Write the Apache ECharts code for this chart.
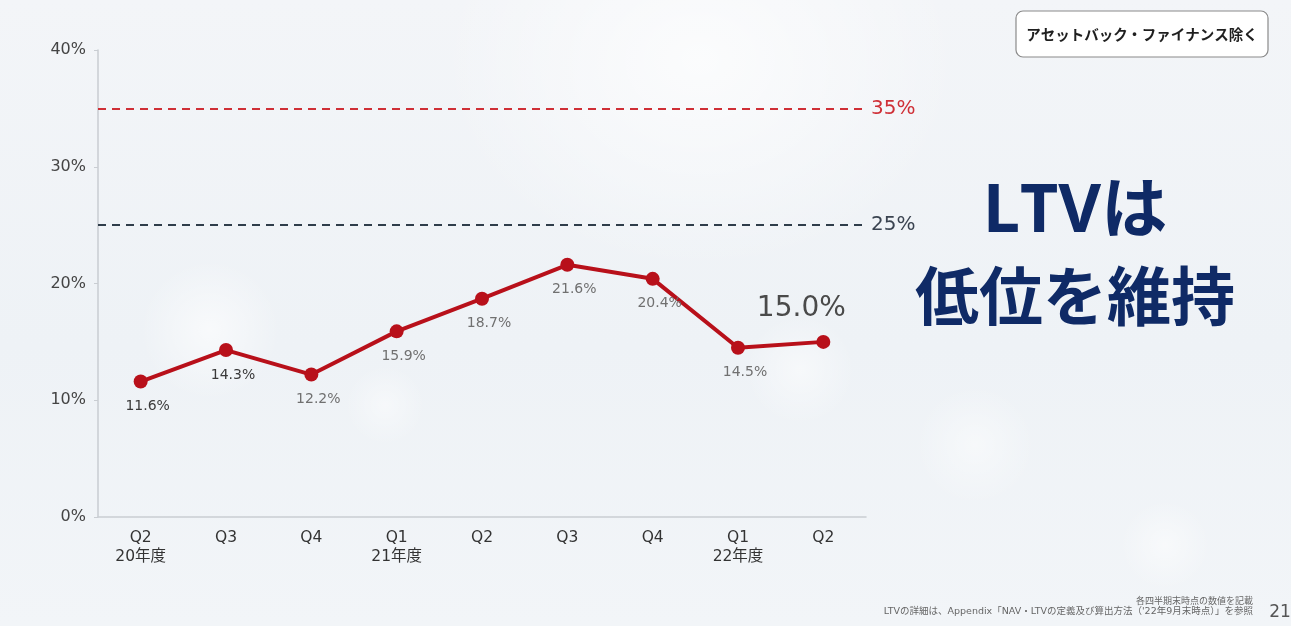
<!DOCTYPE html>
<html lang="ja">
<head>
<meta charset="utf-8">
<title>LTV推移</title>
<script src="https://cdn.jsdelivr.net/npm/echarts@6/dist/echarts.min.js"></script>
<style>
  html, body { margin: 0; padding: 0; }
  body {
    width: 1291px; height: 626px; overflow: hidden;
    background:
      radial-gradient(circle at 210px 330px, rgba(255,255,255,0.6) 0, rgba(255,255,255,0) 70px),
      radial-gradient(circle at 385px 405px, rgba(255,255,255,0.45) 0, rgba(255,255,255,0) 40px),
      radial-gradient(circle at 800px 370px, rgba(255,255,255,0.5) 0, rgba(255,255,255,0) 55px),
      radial-gradient(circle at 1165px 545px, rgba(255,255,255,0.5) 0, rgba(255,255,255,0) 45px),
      radial-gradient(circle at 975px 445px, rgba(255,255,255,0.45) 0, rgba(255,255,255,0) 60px),
      radial-gradient(ellipse at 700px 60px, rgba(255,255,255,0.7) 0, rgba(255,255,255,0) 260px),
      linear-gradient(180deg, #f3f5f8 0%, #eef2f6 55%, #f2f5f8 100%);
  }
  #chart { width: 1291px; height: 626px; }
</style>
</head>
<body>
<div id="chart"></div>
<script>
// 四半期末時点のLTV（アセットバック・ファイナンス除く）
const quarters = ['Q2\n20年度', 'Q3', 'Q4', 'Q1\n21年度', 'Q2', 'Q3', 'Q4', 'Q1\n22年度', 'Q2'];
const ltvValues = [11.6, 14.3, 12.2, 15.9, 18.7, 21.6, 20.4, 14.5, 15.0];
const yTicks = [0, 10, 20, 30, 40];
const upperLimit = 35;
const targetLevel = 25;

const FONT = '"DejaVu Sans", "Noto Sans CJK JP", sans-serif';
const JP_FONT = '"Noto Sans CJK JP", "Noto Sans", sans-serif';
const HEAD_FONT = '"Open Sans", "Noto Sans CJK JP", sans-serif';
const RED = '#b8101a';

const darkLabels = new Set([0, 1]);
const lastIndex = ltvValues.length - 1;

const seriesData = ltvValues.map((v, i) => {
  if (i === lastIndex) {
    return {
      value: v,
      label: {
        position: 'top',
        distance: 12,
        offset: [-22, 0],
        fontSize: 28,
        color: '#4a4a4a'
      }
    };
  }
  return {
    value: v,
    label: { color: darkLabels.has(i) ? '#3a3a3a' : '#707070' }
  };
});

const chart = echarts.init(document.getElementById('chart'), null, { renderer: 'canvas' });

chart.setOption({
  backgroundColor: 'transparent',
  animation: false,
  textStyle: { fontFamily: FONT },
  grid: { left: 98, right: 425, top: 50, bottom: 109 },
  xAxis: {
    type: 'category',
    data: quarters,
    boundaryGap: true,
    axisLine: { lineStyle: { color: '#c9cdd2', width: 1.5 } },
    axisTick: { show: false },
    axisLabel: {
      color: '#333',
      fontSize: 15.5,
      lineHeight: 19,
      margin: 11,
      fontFamily: FONT
    }
  },
  yAxis: {
    type: 'value',
    min: yTicks[0],
    max: yTicks[yTicks.length - 1],
    interval: 10,
    splitLine: { show: false },
    axisLine: { show: true, lineStyle: { color: '#c9cdd2', width: 1.5 } },
    axisTick: { show: true, length: 4, lineStyle: { color: '#c9cdd2' } },
    axisLabel: {
      color: '#444',
      fontSize: 16,
      margin: 12,
      fontFamily: FONT,
      formatter: v => v + '%'
    }
  },
  series: [{
    type: 'line',
    data: seriesData,
    symbol: 'circle',
    symbolSize: 14,
    lineStyle: { color: RED, width: 4 },
    itemStyle: { color: RED },
    z: 5,
    label: {
      show: true,
      position: 'bottom',
      distance: 11,
      offset: [7, 0],
      fontSize: 14,
      fontFamily: FONT,
      formatter: p => p.value.toFixed(1) + '%'
    },
    markLine: {
      silent: true,
      symbol: 'none',
      animation: false,
      data: [
        {
          yAxis: upperLimit,
          lineStyle: { color: '#cf2f36', type: [8, 6], width: 2.2 },
          label: { color: '#cf2f36' }
        },
        {
          yAxis: targetLevel,
          lineStyle: { color: '#2f3d4a', type: [8, 6], width: 2.2 },
          label: { color: '#3a4350' }
        }
      ],
      label: {
        show: true,
        position: 'end',
        distance: 5,
        fontSize: 20,
        fontFamily: FONT,
        formatter: p => p.value + '%'
      }
    }
  }],
  graphic: [
    {
      type: 'rect',
      shape: { x: 1016, y: 11, width: 252, height: 46, r: 7 },
      style: { fill: '#ffffff', stroke: '#8a8a8a', lineWidth: 1.2 }
    },
    {
      type: 'text',
      x: 1142, y: 34,
      style: {
        text: 'アセットバック・ファイナンス除く',
        font: '600 14.5px ' + JP_FONT,
        fill: '#1f1f1f',
        align: 'center',
        verticalAlign: 'middle'
      }
    },
    {
      type: 'text',
      x: 1075, y: 213,
      style: {
        text: 'LTVは',
        font: 'bold 66px ' + HEAD_FONT,
        fill: '#0f2a66',
        align: 'center',
        verticalAlign: 'middle'
      }
    },
    {
      type: 'text',
      x: 1075, y: 296,
      style: {
        text: '低位を維持',
        font: 'bold 64px ' + JP_FONT,
        fill: '#0f2a66',
        align: 'center',
        verticalAlign: 'middle'
      }
    },
    {
      type: 'text',
      x: 1253, y: 601,
      style: {
        text: '各四半期末時点の数値を記載',
        font: '9px ' + JP_FONT,
        fill: '#666',
        align: 'right',
        verticalAlign: 'middle'
      }
    },
    {
      type: 'text',
      x: 1253, y: 612,
      style: {
        text: 'LTVの詳細は、Appendix「NAV・LTVの定義及び算出方法（\'22年9月末時点）」を参照',
        font: '9.5px ' + FONT,
        fill: '#666',
        align: 'right',
        verticalAlign: 'middle'
      }
    },
    {
      type: 'text',
      x: 1280, y: 613,
      style: {
        text: '21',
        font: '17px ' + FONT,
        fill: '#555',
        align: 'center',
        verticalAlign: 'middle'
      }
    }
  ]
});
</script>
</body>
</html>
